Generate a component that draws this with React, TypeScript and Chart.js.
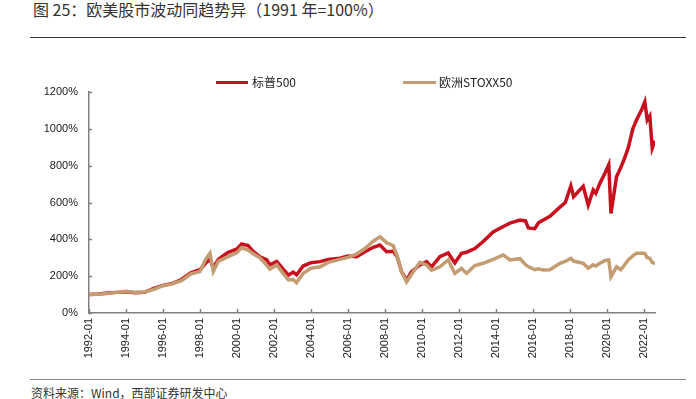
import React, { useEffect, useRef } from 'react';
import { Chart, registerables } from 'chart.js';

Chart.register(...registerables);

// ---- data (1991 = 100%) ----
const dates = [
  1992.0, 1992.5, 1993.0, 1993.5, 1994.0, 1994.5, 1995.0, 1995.5, 1996.0, 1996.5,
  1997.0, 1997.5, 1998.0, 1998.3, 1998.54, 1998.72, 1999.0, 1999.5, 2000.0, 2000.25,
  2000.6, 2000.88, 2001.24, 2001.6, 2001.78, 2002.15, 2002.5, 2002.78, 2003.04, 2003.22,
  2003.58, 2004.0, 2004.49, 2004.94, 2005.57, 2006.0, 2006.47, 2006.92, 2007.37, 2007.73,
  2008.09, 2008.45, 2008.66, 2008.9, 2009.17, 2009.44, 2009.89, 2010.25, 2010.52, 2010.97,
  2011.42, 2011.78, 2012.14, 2012.41, 2012.86, 2013.31, 2013.85, 2014.4, 2014.76, 2015.3,
  2015.6, 2015.75, 2016.1, 2016.3, 2016.56, 2016.92, 2017.46, 2017.75, 2018.05, 2018.2,
  2018.72, 2018.99, 2019.26, 2019.4, 2019.62, 2019.9, 2020.1, 2020.22, 2020.52, 2020.75,
  2020.88, 2021.15, 2021.4, 2021.6, 2021.87, 2022.05, 2022.18, 2022.32, 2022.45, 2022.6,
];

const sp500 = [
  100, 103, 108, 112, 115, 110, 112, 133, 150, 160,
  182, 218, 235, 270, 292, 245, 292, 328, 348, 375,
  366, 335, 305, 290, 262, 280, 238, 205, 222, 208,
  255, 273, 279, 291, 297, 309, 306, 333, 357, 369,
  333, 335, 305, 224, 178, 224, 261, 279, 250, 306,
  326, 272, 324, 330, 350, 388, 440, 470, 488, 505,
  500, 462, 458, 490, 505, 525, 575, 600, 690, 632,
  688, 586, 668, 650, 704, 760, 805, 541, 740, 790,
  821, 895, 1000, 1048, 1102, 1147, 1048, 1070, 895, 935,
];

const stoxx50 = [
  100, 102, 106, 112, 118, 112, 114, 128, 148, 158,
  176, 212, 225, 290, 325, 225, 282, 305, 328, 355,
  342, 322, 300, 260, 238, 261, 215, 180, 182, 165,
  215, 243, 251, 275, 291, 302, 320, 350, 390, 414,
  382, 365, 310, 224, 168, 210, 275, 261, 232, 251,
  288, 215, 243, 215, 258, 270, 291, 315, 288, 295,
  262, 252, 235, 240, 233, 235, 270, 280, 297, 282,
  270, 243, 262, 255, 270, 285, 288, 197, 251, 235,
  251, 288, 310, 324, 325, 324, 300, 297, 275, 268,
];

const seriesNames = ['标普500', '欧洲STOXX50'];
const xTickLabels = [
  '1992-01', '1994-01', '1996-01', '1998-01', '2000-01', '2002-01', '2004-01', '2006-01',
  '2008-01', '2010-01', '2012-01', '2014-01', '2016-01', '2018-01', '2020-01', '2022-01',
];
const yTicks = [0, 200, 400, 600, 800, 1000, 1200];
const xMin = 1992;
const xMax = 2022.6;

const RED = '#c8101e';
const TAN = '#c49c72';
const AXIS = '#808080';
const TICK_FONT = { family: '"Liberation Sans", Arial, sans-serif', size: 11 };

const innerTicks = {
  id: 'innerTicks',
  afterDraw(chart: any) {
    const { ctx, chartArea, scales } = chart;
    ctx.save();
    ctx.strokeStyle = AXIS;
    ctx.lineWidth = 1.5;
    scales.x.ticks.forEach((t: any) => {
      const px = Math.round(scales.x.getPixelForValue(t.value)) + 0.5;
      ctx.beginPath();
      ctx.moveTo(px, chartArea.bottom);
      ctx.lineTo(px, chartArea.bottom - 4);
      ctx.stroke();
    });
    scales.y.ticks.forEach((t: any) => {
      const py = Math.round(scales.y.getPixelForValue(t.value)) + 0.5;
      ctx.beginPath();
      ctx.moveTo(chartArea.left, py);
      ctx.lineTo(chartArea.left + 3, py);
      ctx.stroke();
    });
    ctx.restore();
  },
};

function ChartCanvas() {
  const ref = useRef<HTMLCanvasElement | null>(null);
  useEffect(() => {
    if (!ref.current) return;
    const chart = new Chart(ref.current, {
      type: 'line',
      data: {
        datasets: [
          {
            label: seriesNames[0],
            data: dates.map((d, i) => ({ x: d, y: sp500[i] })),
            borderColor: RED,
            backgroundColor: RED,
            borderWidth: 3.5,
            pointRadius: 0,
            tension: 0,
            order: 1,
          },
          {
            label: seriesNames[1],
            data: dates.map((d, i) => ({ x: d, y: stoxx50[i] })),
            borderColor: TAN,
            backgroundColor: TAN,
            borderWidth: 3.5,
            pointRadius: 0,
            tension: 0,
            order: 0,
          },
        ],
      },
      options: {
        responsive: false,
        animation: false,
        events: [],
        layout: { padding: { top: 52, right: 41, bottom: 0, left: 0 } },
        plugins: { legend: { display: false }, tooltip: { enabled: false } },
        scales: {
          x: {
            type: 'linear',
            min: xMin,
            max: xMax,
            afterBuildTicks: (scale: any) => {
              scale.ticks = xTickLabels.map((l) => ({ value: parseInt(l, 10) }));
            },
            afterFit: (scale: any) => {
              scale.height = 65;
            },
            grid: { display: false, drawTicks: false },
            border: { display: true, color: AXIS, width: 1.5 },
            ticks: {
              autoSkip: false,
              minRotation: 90,
              maxRotation: 90,
              padding: 5,
              color: '#1a1a1a',
              font: TICK_FONT,
              callback: (v: any) => {
                const lab = xTickLabels.find((l) => parseInt(l, 10) === Number(v));
                return lab ?? '';
              },
            },
          },
          y: {
            type: 'linear',
            min: 0,
            max: 1200,
            afterBuildTicks: (scale: any) => {
              scale.ticks = yTicks.map((v) => ({ value: v }));
            },
            afterFit: (scale: any) => {
              scale.width = 89;
            },
            grid: { display: false, drawTicks: false },
            border: { display: true, color: AXIS, width: 1.5 },
            ticks: {
              padding: 11,
              color: '#1a1a1a',
              font: TICK_FONT,
              callback: (v: any) => `${v}%`,
            },
          },
        },
      },
      plugins: [innerTicks],
    } as any);
    return () => chart.destroy();
  }, []);
  return <canvas ref={ref} width={696} height={338} style={{ display: 'block', width: 696, height: 338 }} />;
}

const CJK = '"Noto Sans CJK SC", "Liberation Sans", sans-serif';

export default function App() {
  return (
    <div style={{ position: 'absolute', left: 0, top: 0, width: 696, height: 399, background: '#fff', overflow: 'hidden' }}>
      <div style={{ position: 'absolute', left: 33, top: -1, fontFamily: CJK, fontSize: 16, lineHeight: '21px', color: '#333', whiteSpace: 'nowrap' }}>
        图 25：欧美股市波动同趋势异（1991 年=100%）
      </div>
      <div style={{ position: 'absolute', left: 30, top: 37, width: 656, height: 0, borderTop: '1.3px solid #333' }} />
      <div style={{ position: 'absolute', left: 0, top: 40, width: 696, height: 338 }}>
        <ChartCanvas />
      </div>
      {/* legend */}
      <div style={{ position: 'absolute', left: 216, top: 81, width: 32, height: 3, background: RED }} />
      <div style={{ position: 'absolute', left: 252, top: 74, fontFamily: CJK, fontSize: 12, lineHeight: '16px', color: '#222', whiteSpace: 'nowrap' }}>
        {seriesNames[0]}
      </div>
      <div style={{ position: 'absolute', left: 403, top: 81, width: 33, height: 3, background: TAN }} />
      <div style={{ position: 'absolute', left: 439, top: 74, fontFamily: CJK, fontSize: 12, lineHeight: '16px', color: '#222', whiteSpace: 'nowrap' }}>
        {seriesNames[1]}
      </div>
      <div style={{ position: 'absolute', left: 30, top: 379, width: 656, height: 0, borderTop: '1.5px solid #888' }} />
      <div style={{ position: 'absolute', left: 31, top: 385, fontFamily: CJK, fontSize: 12, lineHeight: '16px', color: '#333', whiteSpace: 'nowrap' }}>
        资料来源：Wind，西部证券研发中心
      </div>
    </div>
  );
}
